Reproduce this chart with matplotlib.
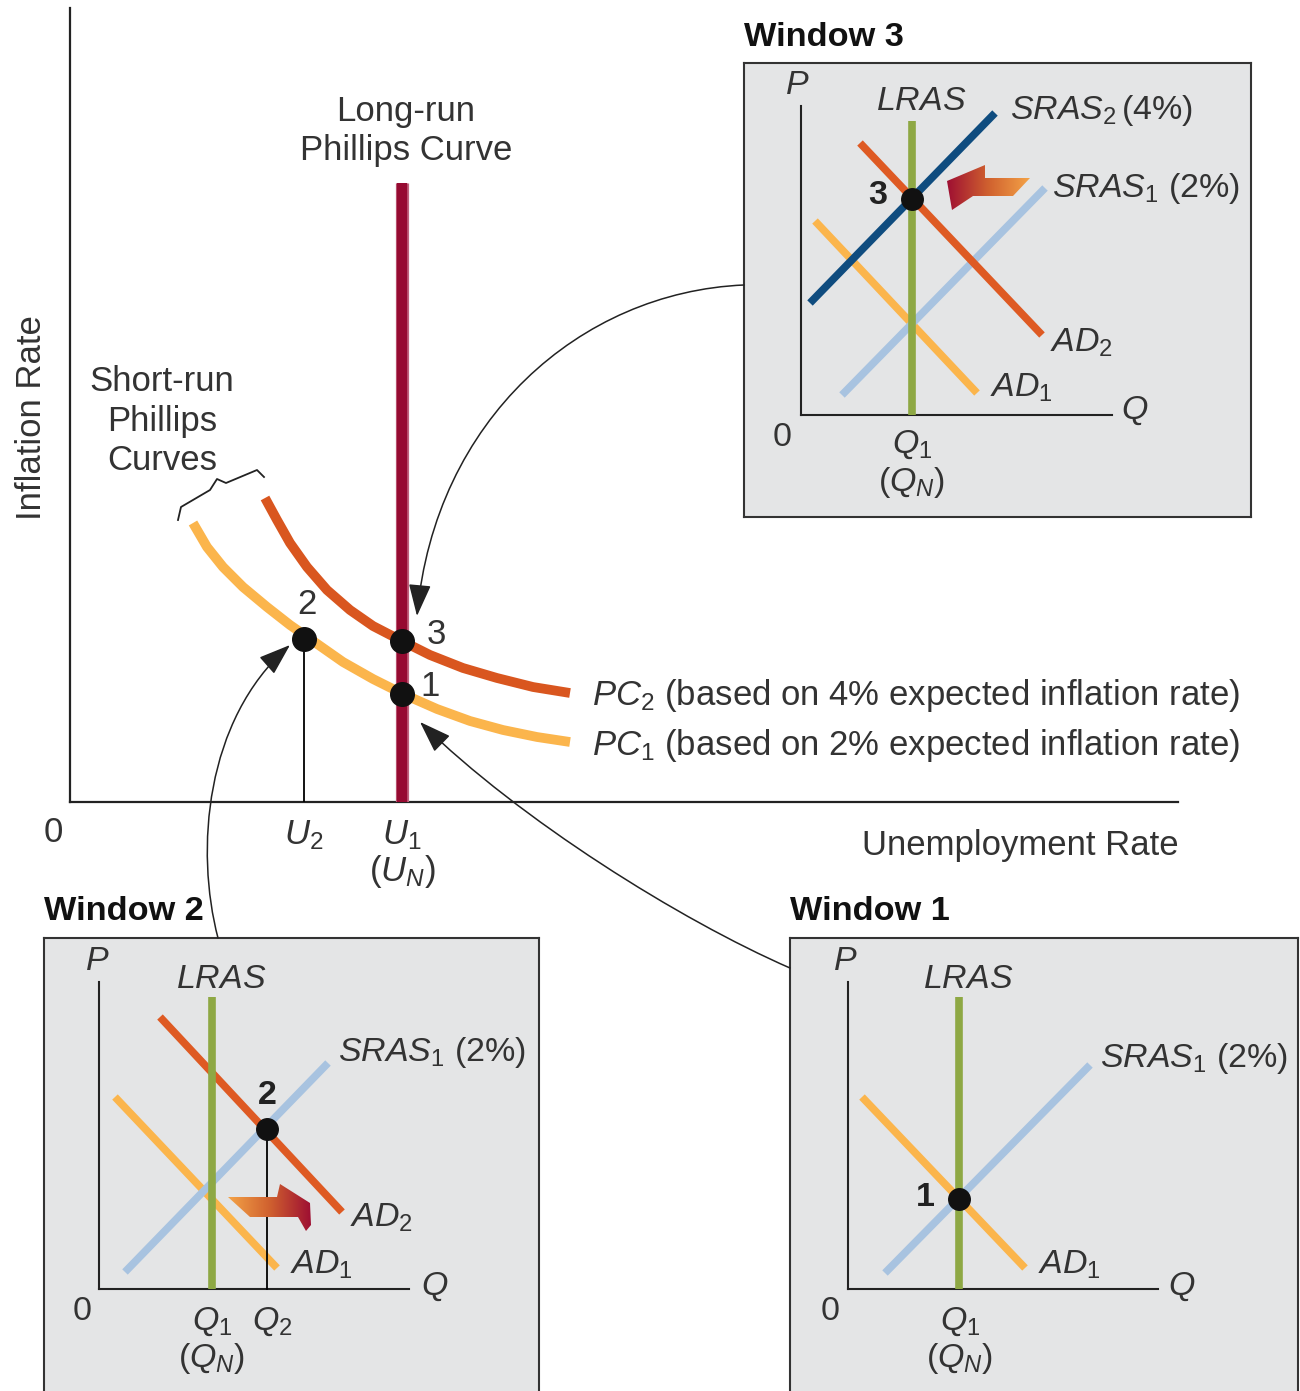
import numpy as np
import matplotlib
matplotlib.use('Agg')
import matplotlib.pyplot as plt
from matplotlib.patches import Polygon, FancyArrowPatch
from matplotlib.path import Path
from matplotlib.colors import LinearSegmentedColormap

plt.rcParams['font.family'] = ['Liberation Sans', 'DejaVu Sans']
plt.rcParams['mathtext.fontset'] = 'custom'
plt.rcParams['mathtext.rm'] = 'Liberation Sans'
plt.rcParams['mathtext.it'] = 'Liberation Sans:italic'
plt.rcParams['mathtext.bf'] = 'Liberation Sans:bold'

# ---------------------------------------------------------------
# main chart (arbitrary units)
pc1_u = [1.23, 1.37, 1.53, 1.73, 1.97, 2.20, 2.43, 2.73, 3.03, 3.33, 3.67, 4.00, 4.33, 4.67, 5.00]
pc1_pi = [2.79, 2.55, 2.35, 2.15, 1.95, 1.77, 1.61, 1.40, 1.23, 1.08, 0.93, 0.81, 0.72, 0.65, 0.60]
pc2_u = [1.95, 2.07, 2.20, 2.37, 2.57, 2.80, 3.03, 3.32, 3.60, 3.93, 4.27, 4.63, 5.00]
pc2_pi = [3.04, 2.82, 2.59, 2.35, 2.12, 1.92, 1.76, 1.61, 1.47, 1.34, 1.24, 1.15, 1.09]
u_n = 3.32
u_2 = 2.34
lrpc_top = 6.19
pt_labels = ['1', '2', '3']
pt_u = [3.32, 2.34, 3.32]
pt_pi = [1.08, 1.63, 1.61]

# windows: lines given as (q0, p0, q1, p1)
w3_lines = {
    'ad1': (0.14, 1.94, 1.76, 0.22),
    'sras1': (0.41, 0.20, 2.44, 2.27),
    'ad2': (0.59, 2.72, 2.41, 0.80),
    'sras2': (0.09, 1.12, 1.94, 3.02),
}
w3_lras = (1.11, 2.94)
w3_eq = (1.11, 2.16)

w2_lines = {
    'ad1': (0.16, 1.92, 1.78, 0.21),
    'sras1': (0.26, 0.17, 2.29, 2.26),
    'ad2': (0.61, 2.72, 2.43, 0.77),
}
w2_lras = (1.13, 2.92)
w2_eq = (1.68, 1.60)

w1_lines = {
    'ad1': (0.14, 1.92, 1.77, 0.21),
    'sras1': (0.37, 0.16, 2.42, 2.24),
}
w1_lras = (1.11, 2.92)
w1_eq = (1.11, 0.90)

c_yellow = '#fbb54c'
c_orange = '#d9561f'
c_lrpc = '#960a31'
c_green = '#8ea844'
c_ltblue = '#a8c3e0'
c_dkblue = '#0f4c7f'
c_txt = '#333333'
c_bg = '#e4e5e6'
line_cols = {'ad1': c_yellow, 'sras1': c_ltblue, 'ad2': '#de5a23', 'sras2': c_dkblue}

W, H = 1300, 1391
fig = plt.figure(figsize=(13, 13.91), dpi=100)

def fr(x0, y0, x1, y1):
    return [x0 / W, 1 - y1 / H, (x1 - x0) / W, (y1 - y0) / H]

FS = 25
WFS = 24.5

# ---------------------------------------------------------------
ax = fig.add_axes(fr(70, 8, 1178, 802))
ax.set_xlim(0, 11.08)
ax.set_ylim(0, 7.94)
for s in ['top', 'right']:
    ax.spines[s].set_visible(False)
for s in ['left', 'bottom']:
    ax.spines[s].set_linewidth(1.6)
    ax.spines[s].set_color('#222222')
ax.set_xticks([])
ax.set_yticks([])
ax.patch.set_alpha(0)

ax.plot(pc1_u, pc1_pi, color=c_yellow, lw=7, solid_capstyle='butt', solid_joinstyle='round', zorder=2)
ax.plot(pc2_u, pc2_pi, color=c_orange, lw=7, solid_capstyle='butt', solid_joinstyle='round', zorder=2)
ax.plot([u_n, u_n], [0, lrpc_top], color='#c0627c', lw=9.5, solid_capstyle='butt', zorder=3)
ax.plot([u_n, u_n], [0, lrpc_top], color=c_lrpc, lw=7.5, solid_capstyle='butt', zorder=3)
ax.plot([u_2, u_2], [0, pt_pi[1]], color='black', lw=1.3, zorder=3)
ax.plot(pt_u, pt_pi, 'o', color='#111111', ms=17, zorder=5)

pt_off = {'1': (0.28, 0.08), '2': (0.03, 0.34), '3': (0.34, 0.07)}
for lab, u, p in zip(pt_labels, pt_u, pt_pi):
    dx, dy = pt_off[lab]
    ax.text(u + dx, p + dy, lab, fontsize=FS, color=c_txt, ha='center', va='center')

# brace over the short-run curves
brace_u = [1.08, 1.11, 1.40, 1.47, 1.56, 1.87, 1.94]
brace_pi = [2.82, 2.95, 3.12, 3.23, 3.19, 3.32, 3.25]
ax.plot(brace_u, brace_pi, color='#222222', lw=1.3)

ax.text(3.36, 6.71, 'Long-run\nPhillips Curve', fontsize=FS, color=c_txt,
        ha='center', va='center', linespacing=1.25)
ax.text(0.92, 3.81, 'Short-run\nPhillips\nCurves', fontsize=FS, color=c_txt,
        ha='center', va='center', linespacing=1.25)
ax.text(5.22, 1.07, r'$PC_2$ (based on 4% expected inflation rate)', fontsize=FS,
        color=c_txt, ha='left', va='center')
ax.text(5.22, 0.57, r'$PC_1$ (based on 2% expected inflation rate)', fontsize=FS,
        color=c_txt, ha='left', va='center')
ax.text(-0.17, -0.30, '0', fontsize=FS, color=c_txt, ha='center', va='center')
ax.text(u_2, -0.33, r'$U_2$', fontsize=FS, color=c_txt, ha='center', va='center')
ax.text(u_n, -0.33, r'$U_1$', fontsize=FS, color=c_txt, ha='center', va='center')
ax.text(u_n, -0.70, r'$(U_N)$', fontsize=FS, color=c_txt, ha='center', va='center')
ax.text(9.50, -0.44, 'Unemployment Rate', fontsize=FS, color=c_txt, ha='center', va='center')
fig.text(32 / W, 1 - 418 / H, 'Inflation Rate', fontsize=FS, color=c_txt,
         rotation=90, ha='center', va='center')


# ---------------------------------------------------------------
def make_window(box, xlim, ylim, title, lines, lras, eq, eq_lab, eq_off,
                p_top, q_len, labels, hide_bottom=False):
    w = fig.add_axes(fr(*box))
    w.set_xlim(*xlim)
    w.set_ylim(*ylim)
    w.set_facecolor(c_bg)
    w.set_xticks([])
    w.set_yticks([])
    for s in w.spines.values():
        s.set_linewidth(1.5)
        s.set_color('#333333')
    if hide_bottom:
        w.spines['bottom'].set_visible(False)
    w.plot([0, 0], [0, p_top], color='#222222', lw=1.5)
    w.plot([0, q_len], [0, 0], color='#222222', lw=1.5)
    for k, (q0, p0, q1, p1) in lines.items():
        w.plot([q0, q1], [p0, p1], color=line_cols[k], lw=5.5, solid_capstyle='butt', zorder=3)
    w.plot([lras[0], lras[0]], [0, lras[1]], color=c_green, lw=5.5, solid_capstyle='butt', zorder=4)
    w.plot([eq[0]], [eq[1]], 'o', color='#111111', ms=15.5, zorder=6)
    w.text(eq[0] + eq_off[0], eq[1] + eq_off[1], eq_lab, fontsize=WFS, fontweight='bold',
           color='#222222', ha='center', va='center')
    for txt, x, y, ha in labels:
        w.text(x, y, txt, fontsize=WFS, color=c_txt, ha=ha, va='center')
    w.text(xlim[0], ylim[1] + 0.26, title, fontsize=24.7, fontweight='bold', color='#111111',
           ha='left', va='center', clip_on=False)
    return w


def grad_arrow(w, verts, reverse):
    xl, yl = w.get_xlim(), w.get_ylim()
    poly = Polygon(verts, closed=True, facecolor='none', edgecolor='none')
    w.add_patch(poly)
    xs = [v[0] for v in verts]
    ys = [v[1] for v in verts]
    cmap = LinearSegmentedColormap.from_list('g', ['#f4a347', '#d0612f', '#9e0f32'])
    grad = np.linspace(0, 1, 256).reshape(1, -1)
    if reverse:
        grad = grad[:, ::-1]
    im = w.imshow(grad, cmap=cmap, extent=(min(xs), max(xs), min(ys), max(ys)),
                  aspect='auto', zorder=5, interpolation='bilinear')
    im.set_clip_path(poly)
    w.set_xlim(*xl)
    w.set_ylim(*yl)


w3 = make_window((744, 63, 1251, 517), (-0.57, 4.50), (-1.02, 3.52), 'Window 3',
                 w3_lines, w3_lras, w3_eq, '3', (-0.34, 0.04), 3.09, 3.11,
                 [(r'$P$', -0.04, 3.29, 'center'),
                  (r'$LRAS$', 1.20, 3.14, 'center'),
                  (r'$SRAS_2\,$(4%)', 2.09, 3.05, 'left'),
                  (r'$SRAS_1$ (2%)', 2.51, 2.27, 'left'),
                  (r'$AD_2$', 2.49, 0.72, 'left'),
                  (r'$AD_1$', 1.89, 0.27, 'left'),
                  (r'$Q$', 3.34, 0.04, 'center'),
                  ('0', -0.19, -0.23, 'center'),
                  (r'$Q_1$', 1.11, -0.30, 'center'),
                  (r'$(Q_N)$', 1.11, -0.68, 'center')])
grad_arrow(w3, [(1.46, 2.34), (1.84, 2.50), (1.84, 2.37), (2.29, 2.37),
                (2.12, 2.19), (1.72, 2.19), (1.51, 2.05)], reverse=True)

w2 = make_window((44, 938, 539, 1391), (-0.55, 4.40), (-1.02, 3.51), 'Window 2',
                 w2_lines, w2_lras, w2_eq, '2', (0.0, 0.34), 3.07, 3.10,
                 [(r'$P$', -0.02, 3.27, 'center'),
                  (r'$LRAS$', 1.22, 3.09, 'center'),
                  (r'$SRAS_1$ (2%)', 2.39, 2.36, 'left'),
                  (r'$AD_2$', 2.51, 0.71, 'left'),
                  (r'$AD_1$', 1.91, 0.24, 'left'),
                  (r'$Q$', 3.36, 0.02, 'center'),
                  ('0', -0.17, -0.23, 'center'),
                  (r'$Q_1$', 1.13, -0.33, 'center'),
                  (r'$Q_2$', 1.73, -0.33, 'center'),
                  (r'$(Q_N)$', 1.13, -0.69, 'center')], hide_bottom=True)
w2.plot([w2_eq[0], w2_eq[0]], [0, w2_eq[1]], color='black', lw=1.3, zorder=5)
grad_arrow(w2, [(1.29, 0.92), (1.78, 0.92), (1.81, 1.05), (2.11, 0.86),
                (2.12, 0.64), (2.07, 0.58), (1.99, 0.72), (1.51, 0.72)], reverse=False)

w1 = make_window((790, 938, 1298, 1391), (-0.58, 4.50), (-1.02, 3.51), 'Window 1',
                 w1_lines, w1_lras, w1_eq, '1', (-0.34, 0.01), 3.07, 3.10,
                 [(r'$P$', -0.03, 3.27, 'center'),
                  (r'$LRAS$', 1.20, 3.09, 'center'),
                  (r'$SRAS_1$ (2%)', 2.52, 2.31, 'left'),
                  (r'$AD_1$', 1.90, 0.24, 'left'),
                  (r'$Q$', 3.34, 0.02, 'center'),
                  ('0', -0.18, -0.23, 'center'),
                  (r'$Q_1$', 1.12, -0.33, 'center'),
                  (r'$(Q_N)$', 1.12, -0.69, 'center')], hide_bottom=True)

# ---------------------------------------------------------------
# curved arrows from the windows to the points (cubic curves, main-axis units)
curves = [
    [(6.74, 5.17), (5.10, 5.10), (3.65, 3.82), (3.47, 1.86)],
    [(1.48, -1.36), (1.25, -0.48), (1.35, 0.82), (2.20, 1.57)],
    [(7.20, -1.66), (6.10, -1.18), (4.50, -0.18), (3.50, 0.80)],
]
for verts in curves:
    p = Path(verts, [Path.MOVETO, Path.CURVE4, Path.CURVE4, Path.CURVE4])
    arr = FancyArrowPatch(path=p, arrowstyle='-|>,head_length=1.0,head_width=0.35',
                          mutation_scale=20, color='#222222', lw=1.1,
                          transform=ax.transData, clip_on=False, zorder=10)
    fig.add_artist(arr)

plt.savefig('out.png', dpi=100)
